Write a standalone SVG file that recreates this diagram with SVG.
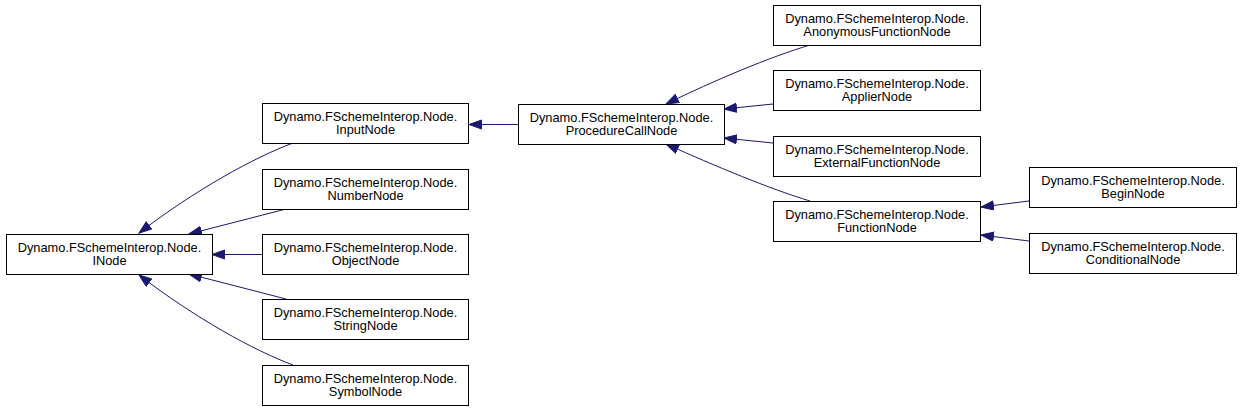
<svg xmlns="http://www.w3.org/2000/svg" width="1243" height="412" viewBox="0 0 1243 412">
<defs>
<style>
.box{fill:#ffffff;stroke:#000000;stroke-width:1}
.t{font-family:"Liberation Sans",Arial,sans-serif;font-size:12.8px;fill:#000000;text-anchor:middle}
.e{fill:none;stroke:#191970;stroke-width:1}
</style>
<marker id="ah" markerUnits="userSpaceOnUse" markerWidth="14" markerHeight="11" refX="13" refY="5" orient="auto">
<path d="M0.5,0.5 L13,5 L0.5,9.5 z" fill="#191970" stroke="#191970" stroke-width="1"/>
</marker>
</defs>
<rect width="1243" height="412" fill="#ffffff"/>
<g id="connectors">
<path class="e" marker-end="url(#ah)" d="M293,143 C255,157 195,190 139,233"/>
<path class="e" marker-end="url(#ah)" d="M286,209 L189,234"/>
<path class="e" marker-end="url(#ah)" d="M262,254.5 L212,254.5"/>
<path class="e" marker-end="url(#ah)" d="M286,299 L189,274"/>
<path class="e" marker-end="url(#ah)" d="M293,365 C255,351 195,318 139,275"/>
<path class="e" marker-end="url(#ah)" d="M518,124.5 L469,124.5"/>
<path class="e" marker-end="url(#ah)" d="M810,45 C770,57 715,80 666,104"/>
<path class="e" marker-end="url(#ah)" d="M773,104 L724,109"/>
<path class="e" marker-end="url(#ah)" d="M773,143 L724,138"/>
<path class="e" marker-end="url(#ah)" d="M810,201 C770,189 715,166 666,144"/>
<path class="e" marker-end="url(#ah)" d="M1029,201 L981,207"/>
<path class="e" marker-end="url(#ah)" d="M1029,241 L981,235"/>
</g>
<g id="INode"><rect class="box" x="6.5" y="234.5" width="206" height="40"/><text class="t" x="109.5" y="252">Dynamo.FSchemeInterop.Node.</text><text class="t" x="109.5" y="265">INode</text></g>
<g id="InputNode"><rect class="box" x="262.5" y="103.5" width="206" height="40"/><text class="t" x="365.5" y="121">Dynamo.FSchemeInterop.Node.</text><text class="t" x="365.5" y="134">InputNode</text></g>
<g id="NumberNode"><rect class="box" x="262.5" y="169.5" width="206" height="40"/><text class="t" x="365.5" y="187">Dynamo.FSchemeInterop.Node.</text><text class="t" x="365.5" y="200">NumberNode</text></g>
<g id="ObjectNode"><rect class="box" x="262.5" y="234.5" width="206" height="40"/><text class="t" x="365.5" y="252">Dynamo.FSchemeInterop.Node.</text><text class="t" x="365.5" y="265">ObjectNode</text></g>
<g id="StringNode"><rect class="box" x="262.5" y="299.5" width="206" height="40"/><text class="t" x="365.5" y="317">Dynamo.FSchemeInterop.Node.</text><text class="t" x="365.5" y="330">StringNode</text></g>
<g id="SymbolNode"><rect class="box" x="262.5" y="365.5" width="206" height="40"/><text class="t" x="365.5" y="383">Dynamo.FSchemeInterop.Node.</text><text class="t" x="365.5" y="396">SymbolNode</text></g>
<g id="ProcedureCallNode"><rect class="box" x="518.5" y="104.5" width="206" height="40"/><text class="t" x="621.5" y="122">Dynamo.FSchemeInterop.Node.</text><text class="t" x="621.5" y="135">ProcedureCallNode</text></g>
<g id="AnonymousFunctionNode"><rect class="box" x="773.5" y="5.5" width="207" height="40"/><text class="t" x="877" y="23">Dynamo.FSchemeInterop.Node.</text><text class="t" x="877" y="36">AnonymousFunctionNode</text></g>
<g id="ApplierNode"><rect class="box" x="773.5" y="70.5" width="207" height="40"/><text class="t" x="877" y="88">Dynamo.FSchemeInterop.Node.</text><text class="t" x="877" y="101">ApplierNode</text></g>
<g id="ExternalFunctionNode"><rect class="box" x="773.5" y="136.5" width="207" height="40"/><text class="t" x="877" y="154">Dynamo.FSchemeInterop.Node.</text><text class="t" x="877" y="167">ExternalFunctionNode</text></g>
<g id="FunctionNode"><rect class="box" x="773.5" y="201.5" width="207" height="40"/><text class="t" x="877" y="219">Dynamo.FSchemeInterop.Node.</text><text class="t" x="877" y="232">FunctionNode</text></g>
<g id="BeginNode"><rect class="box" x="1029.5" y="167.5" width="207" height="40"/><text class="t" x="1133" y="185">Dynamo.FSchemeInterop.Node.</text><text class="t" x="1133" y="198">BeginNode</text></g>
<g id="ConditionalNode"><rect class="box" x="1029.5" y="233.5" width="207" height="40"/><text class="t" x="1133" y="251">Dynamo.FSchemeInterop.Node.</text><text class="t" x="1133" y="264">ConditionalNode</text></g>
</svg>
